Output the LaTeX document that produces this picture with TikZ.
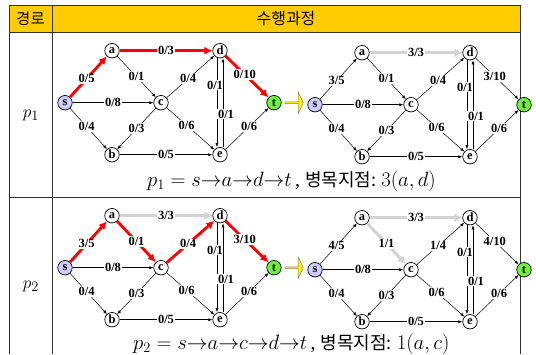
\documentclass[tikz,border=0pt]{standalone}
\usepackage{fontspec}
\setmainfont{Liberation Serif}
\newfontfamily\kor{Noto Sans CJK KR}
\usetikzlibrary{positioning,arrows.meta,shapes.arrows}
\definecolor{hdryellow}{RGB}{255,204,0}
\definecolor{srcblue}{RGB}{204,204,255}
\definecolor{sinkgreen}{RGB}{110,240,60}
\definecolor{augred}{RGB}{255,0,0}
\definecolor{satgray}{RGB}{210,210,210}
\newcommand{\bneck}[1]{{\kor\fontsize{18}{18}\selectfont #1}}

\begin{document}
\begin{tikzpicture}[x=1pt,y=-1pt,on grid,>={Latex[length=4pt,width=3pt]},
   vtx/.style={circle,draw,line width=0.7pt,fill=white,minimum size=14.5pt,
     inner sep=0pt,font=\fontsize{12.5}{12.5}\selectfont\bfseries},
   src/.style={vtx,fill=srcblue},
   snk/.style={vtx,fill=sinkgreen},
   lab/.style={fill=white,text=black,inner sep=1pt,
     font=\fontsize{12.5}{13}\selectfont\bfseries},
   plainedge/.style={->,line width=0.5pt},
   augedge/.style={-{Latex[length=8pt,width=8pt]},line width=2.8pt,augred},
   satedge/.style={-{Latex[length=8pt,width=9pt]},line width=3pt,satgray},
   nextarrow/.style={single arrow,draw=black!50,fill=yellow,line width=0.5pt,
     minimum height=18pt,minimum width=22pt,single arrow head extend=3pt,
     single arrow tip angle=130,inner sep=0pt},
   rule/.style={line width=0.8pt,black!80},
   every node/.style={font=\small}]
  \useasboundingbox (0,0) rectangle (536,354);
  % table frame
  \fill[hdryellow] (9,5.5) rectangle (520.5,32);
  \draw[rule] (9,354) -- (9,5.5) -- (520.5,5.5) -- (520.5,354);
  \draw[rule] (9,32) -- (520.5,32);
  \draw[rule] (9,197) -- (520.5,197);
  \draw[rule] (52,5.5) -- (52,354);
  \node[font=\kor\fontsize{15.5}{15.5}\selectfont] (hpath) at (30.5,19) {경로};
  \node[font=\kor\fontsize{16}{16}\selectfont] (hproc) at (286,19) {수행과정};
  \node[font=\fontsize{19}{19}\selectfont] (p1) at (31,115) {$p_1$};
  \node[font=\fontsize{19}{19}\selectfont] (p2) at (31,286) {$p_2$};
  % networks
  \foreach \g/\x/\y in {A/65/102.7,B/315/104.7,C/65/267.7,D/315/269.7}{
    \node[src] (\g s) at (\x,\y) {s};
    \node[vtx] (\g a) [above right=52pt and 47pt of \g s] {a};
    \node[vtx] (\g b) [below right=52pt and 47pt of \g s] {b};
    \node[vtx] (\g c) [right=96pt of \g s] {c};
    \node[vtx] (\g d) [right=108pt of \g a] {d};
    \node[vtx] (\g e) [right=108pt of \g b] {e};
    \node[snk] (\g t) [right=209pt of \g s] {t};
  }
  \foreach \g in {A,B,C,D}{
    \draw[plainedge] (\g s) -- node[lab]{0/8} (\g c);
    \draw[plainedge] (\g s) -- node[lab,pos=.45]{0/4} (\g b);
    \draw[plainedge] (\g c) -- node[lab]{0/3} (\g b);
    \draw[plainedge] (\g c) -- node[lab,pos=.42]{0/6} (\g e);
    \draw[plainedge] (\g b) -- node[lab]{0/5} (\g e);
    \draw[plainedge] ([xshift=-3pt]\g d.south) -- node[lab,pos=.3,xshift=-2pt]{0/1} ([xshift=-3pt]\g e.north);
    \draw[plainedge] ([xshift=3pt]\g e.north) -- node[lab,pos=.37,xshift=3pt]{0/1} ([xshift=3pt]\g d.south);
    \draw[plainedge] (\g e) -- node[lab,pos=.55]{0/6} (\g t);
  }
  \foreach \g/\st/\fl/\cp in {A/augedge/0/5,B/plainedge/3/5,C/augedge/3/5,D/plainedge/4/5}
    \draw[\st] (\g s) -- node[lab,pos=.45]{\fl/\cp} (\g a);
  \foreach \g/\st/\fl/\cp in {A/plainedge/0/1,B/plainedge/0/1,C/augedge/0/1,D/satedge/1/1}
    \draw[\st] (\g a) -- node[lab]{\fl/\cp} (\g c);
  \foreach \g/\st/\fl/\cp in {A/augedge/0/3,B/satedge/3/3,C/satedge/3/3,D/satedge/3/3}
    \draw[\st] (\g a) -- node[lab]{\fl/\cp} (\g d);
  \foreach \g/\st/\fl/\cp in {A/plainedge/0/4,B/plainedge/0/4,C/augedge/0/4,D/plainedge/1/4}
    \draw[\st] (\g c) -- node[lab,pos=.45]{\fl/\cp} (\g d);
  \foreach \g/\st/\fl/\cp in {A/augedge/0/10,B/plainedge/3/10,C/augedge/3/10,D/plainedge/4/10}
    \draw[\st] (\g d) -- node[lab,pos=.45]{\fl/\cp} (\g t);
  \foreach \g in {A,C}
    \node[nextarrow] (\g arr) [right=20pt of \g t] {};
  % paths and bottlenecks
  \node[anchor=west,font=\fontsize{20}{20}\selectfont,inner sep=0pt] (f1) at (147,181.7)
    {$p_1 = s{\to}a{\to}d{\to}t$\,,\ \bneck{병목지점:}\ $3(a,d)$};
  \node[anchor=west,font=\fontsize{20}{20}\selectfont,inner sep=0pt] (f2) at (133,344)
    {$p_2 = s{\to}a{\to}c{\to}d{\to}t$\,,\ \bneck{병목지점:}\ $1(a,c)$};
\end{tikzpicture}
\end{document}
